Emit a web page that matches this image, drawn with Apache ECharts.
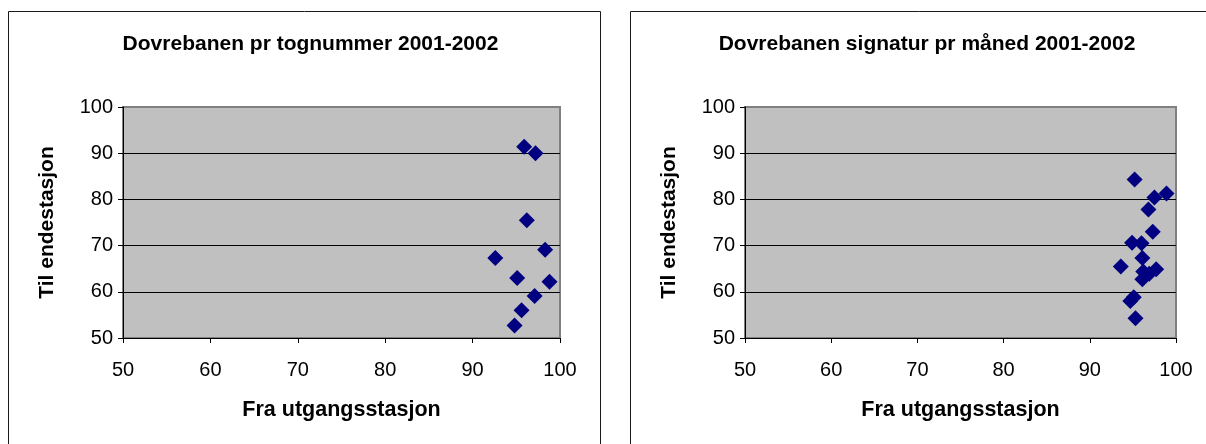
<!DOCTYPE html>
<html>
<head>
<meta charset="utf-8">
<script src="https://cdn.jsdelivr.net/npm/echarts@6/dist/echarts.min.js"></script>
<style>
html,body{margin:0;padding:0;background:#fff;}
#c{width:1206px;height:444px;}
</style>
</head>
<body>
<div id="c"></div>
<script>
// ---- data ----
const titles = ['Dovrebanen pr tognummer 2001-2002', 'Dovrebanen signatur pr måned 2001-2002'];
const xName = 'Fra utgangsstasjon';
const yName = 'Til endestasjon';
const axisTicks = [50, 60, 70, 80, 90, 100];

const leftX = [95.9, 97.2, 96.2, 98.3, 92.6, 95.1, 98.8, 97.1, 95.6, 94.8];
const leftY = [91.4, 90.0, 75.5, 69.1, 67.3, 63.0, 62.2, 59.1, 56.0, 52.7];

const rightX = [95.2, 97.5, 98.9, 96.8, 97.3, 94.9, 96.0, 96.1, 93.6, 97.7, 96.2, 96.9, 96.1, 94.7, 95.1, 95.3];
const rightY = [84.3, 80.4, 81.3, 77.8, 73.0, 70.6, 70.5, 67.3, 65.5, 64.9, 64.4, 63.9, 62.7, 58.0, 58.8, 54.3];

// ---- chart ----
const FONT = 'Liberation Sans, Arial, sans-serif';
const chart = echarts.init(document.getElementById('c'), null, {renderer: 'canvas'});

function pairs(xs, ys) { return xs.map((x, i) => [x, ys[i]]); }

function xAxis(gi) {
  return {
    gridIndex: gi, type: 'value',
    min: axisTicks[0], max: axisTicks[axisTicks.length - 1], interval: 10,
    name: xName, nameLocation: 'middle', nameGap: 61,
    nameTextStyle: {fontFamily: FONT, fontSize: 21.5, fontWeight: 'bold', color: '#000'},
    axisLine: {show: true, onZero: false, lineStyle: {color: '#000', width: 1}},
    axisTick: {show: true, inside: false, length: 5, lineStyle: {color: '#000'}},
    axisLabel: {fontFamily: FONT, fontSize: 20, color: '#000', margin: 22},
    splitLine: {show: false}
  };
}
function yAxis(gi) {
  return {
    gridIndex: gi, type: 'value',
    min: axisTicks[0], max: axisTicks[axisTicks.length - 1], interval: 10,
    name: yName, nameLocation: 'middle', nameGap: 65, nameRotate: 90,
    nameTextStyle: {fontFamily: FONT, fontSize: 21, fontWeight: 'bold', color: '#000'},
    axisLine: {show: true, onZero: false, lineStyle: {color: '#000', width: 1}},
    axisTick: {show: true, inside: false, length: 5, lineStyle: {color: '#000'}},
    axisLabel: {fontFamily: FONT, fontSize: 20, color: '#000', margin: 10},
    splitLine: {show: true, showMinLine: false, showMaxLine: false, lineStyle: {color: '#000', width: 1}}
  };
}

chart.setOption({
  animation: false,
  backgroundColor: '#fff',
  title: [
    {text: titles[0], left: 305.5, top: 29, textAlign: 'center',
     textStyle: {fontFamily: FONT, fontSize: 21, fontWeight: 'bold', color: '#000'}},
    {text: titles[1], left: 922, top: 29, textAlign: 'center',
     textStyle: {fontFamily: FONT, fontSize: 21, fontWeight: 'bold', color: '#000'}}
  ],
  graphic: [
    {type: 'rect', shape: {x: 8.5, y: 11.5, width: 592, height: 460}, silent: true, z: -10,
     style: {fill: '#fff', stroke: '#1a1a1a', lineWidth: 1}},
    {type: 'rect', shape: {x: 630.5, y: 11.5, width: 600, height: 460}, silent: true, z: -10,
     style: {fill: '#fff', stroke: '#1a1a1a', lineWidth: 1}}
  ],
  grid: [
    {left: 123, top: 107, width: 437, height: 231, show: true, backgroundColor: '#c0c0c0',
     borderColor: '#808080', borderWidth: 2},
    {left: 745, top: 107, width: 431, height: 231, show: true, backgroundColor: '#c0c0c0',
     borderColor: '#808080', borderWidth: 2}
  ],
  xAxis: [xAxis(0), xAxis(1)],
  yAxis: [yAxis(0), yAxis(1)],
  series: [
    {type: 'scatter', xAxisIndex: 0, yAxisIndex: 0, data: pairs(leftX, leftY),
     symbol: 'diamond', symbolSize: 16, itemStyle: {color: '#000080', opacity: 1}},
    {type: 'scatter', xAxisIndex: 1, yAxisIndex: 1, data: pairs(rightX, rightY),
     symbol: 'diamond', symbolSize: 16, itemStyle: {color: '#000080', opacity: 1}}
  ]
});
</script>
</body>
</html>
